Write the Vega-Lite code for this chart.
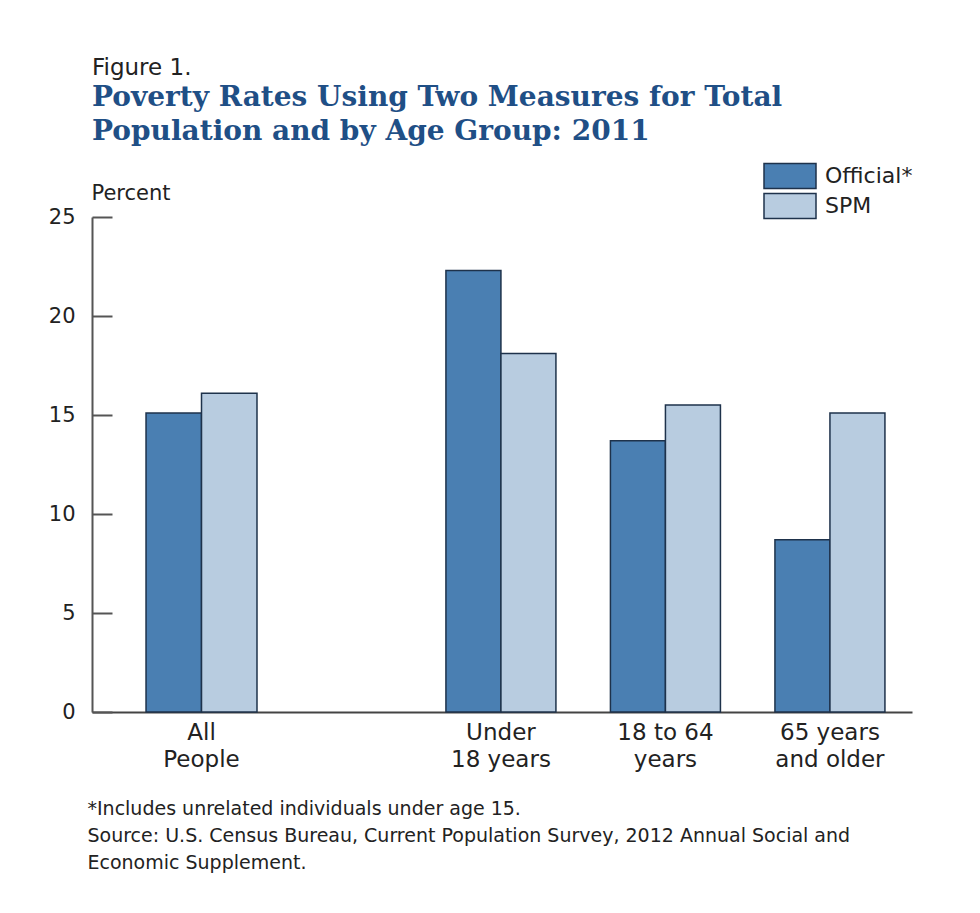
{
  "$schema": "https://vega.github.io/schema/vega-lite/v6.json",
  "autosize": {"type": "none"},
  "padding": {"left": 92, "top": 217, "right": 68, "bottom": 201},
  "width": 820,
  "height": 495,
  "background": "white",
  "title": {
    "text": "Figure 1.",
    "subtitle": ["Poverty Rates Using Two Measures for Total", "Population and by Age Group: 2011"],
    "anchor": "start",
    "frame": "group",
    "font": "DejaVu Sans",
    "fontSize": 23,
    "fontWeight": "normal",
    "color": "#222222",
    "subtitleFont": "DejaVu Serif",
    "subtitleFontSize": 28,
    "subtitleFontWeight": "bold",
    "subtitleColor": "#1f4f86",
    "subtitleLineHeight": 34,
    "subtitlePadding": 4,
    "offset": 16
  },
  "data": {
    "values": [
      {"group": "All People", "measure": "Official*", "rate": 15.1},
      {"group": "All People", "measure": "SPM", "rate": 16.1},
      {"group": "Under 18 years", "measure": "Official*", "rate": 22.3},
      {"group": "Under 18 years", "measure": "SPM", "rate": 18.1},
      {"group": "18 to 64 years", "measure": "Official*", "rate": 13.7},
      {"group": "18 to 64 years", "measure": "SPM", "rate": 15.5},
      {"group": "65 years and older", "measure": "Official*", "rate": 8.7},
      {"group": "65 years and older", "measure": "SPM", "rate": 15.1}
    ]
  },
  "encoding": {
    "y": {
      "field": "rate",
      "type": "quantitative",
      "scale": {"domain": [0, 25], "nice": false},
      "axis": {
        "values": [0, 5, 10, 15, 20, 25],
        "grid": false,
        "domainColor": "#555555",
        "domainWidth": 2,
        "tickColor": "#555555",
        "tickWidth": 2,
        "tickSize": -20,
        "labelFont": "DejaVu Sans",
        "labelFontSize": 21,
        "labelColor": "#222222",
        "labelPadding": 37,
        "title": "Percent",
        "titleFont": "DejaVu Sans",
        "titleFontSize": 21,
        "titleFontWeight": "normal",
        "titleColor": "#222222",
        "titleAngle": 0,
        "titleAlign": "left",
        "titleBaseline": "alphabetic",
        "titleX": -1,
        "titleY": -18
      }
    },
    "color": {
      "field": "measure",
      "type": "nominal",
      "scale": {"domain": ["Official*", "SPM"], "range": ["#4a7fb2", "#b8cce0"]},
      "legend": {
        "title": null,
        "orient": "none",
        "legendX": 684,
        "legendY": -55,
        "symbolType": "M-2,-0.96H2V0.96H-2Z",
        "symbolSize": 676,
        "symbolStrokeColor": "#1e324b",
        "symbolStrokeWidth": 1.5,
        "symbolOpacity": 1,
        "labelOffset": 21,
        "labelFont": "DejaVu Sans",
        "labelFontSize": 22,
        "labelColor": "#222222",
        "rowPadding": -5
      }
    }
  },
  "layer": [
    {
      "transform": [{"filter": "datum.group == 'All People'"}],
      "mark": {"type": "bar", "stroke": "#1e324b", "strokeWidth": 1.5},
      "encoding": {
        "x": {
          "field": "group",
          "type": "nominal",
          "sort": null,
          "scale": {"domain": ["All People"], "paddingInner": 0.687, "paddingOuter": 1, "align": 0.0762},
          "axis": {
            "orient": "bottom",
            "labelAngle": 0,
            "domainColor": "#444444",
            "domainWidth": 2,
            "ticks": false,
            "labelFont": "DejaVu Sans",
            "labelFontSize": 23,
            "labelColor": "#222222",
            "labelLineHeight": 27,
            "labelPadding": 9,
            "labelBaseline": "top",
            "labelExpr": "datum.value == 'All People' ? ['All', 'People'] : datum.value == 'Under 18 years' ? ['Under', '18 years'] : datum.value == '18 to 64 years' ? ['18 to 64', 'years'] : datum.value == '65 years and older' ? ['65 years', 'and older'] : ''",
            "title": ["*Includes unrelated individuals under age 15.", "Source: U.S. Census Bureau, Current Population Survey, 2012 Annual Social and", "Economic Supplement."],
            "titleFont": "DejaVu Sans",
            "titleFontSize": 19,
            "titleFontWeight": "normal",
            "titleColor": "#222222",
            "titleLineHeight": 27,
            "titleAnchor": "start",
            "titleAlign": "left",
            "titleBaseline": "alphabetic",
            "titleX": -5,
            "titleY": 102
          }
        },
        "xOffset": {"field": "measure", "type": "nominal", "scale": {"domain": ["Official*", "SPM"], "paddingInner": 0, "paddingOuter": 0}}
      }
    },
    {
      "transform": [{"filter": "datum.group != 'All People'"}],
      "mark": {"type": "bar", "stroke": "#1e324b", "strokeWidth": 1.5},
      "encoding": {
        "x": {
          "field": "group",
          "type": "nominal",
          "sort": null,
          "scale": {"domain": ["_gap", "Under 18 years", "18 to 64 years", "65 years and older"], "paddingInner": 0.3313, "paddingOuter": 0.658, "align": 0.875},
          "axis": {
            "orient": "bottom",
            "labelAngle": 0,
            "domain": false,
            "ticks": false,
            "labelFont": "DejaVu Sans",
            "labelFontSize": 23,
            "labelColor": "#222222",
            "labelLineHeight": 27,
            "labelPadding": 9,
            "labelBaseline": "top",
            "labelExpr": "datum.value == 'All People' ? ['All', 'People'] : datum.value == 'Under 18 years' ? ['Under', '18 years'] : datum.value == '18 to 64 years' ? ['18 to 64', 'years'] : datum.value == '65 years and older' ? ['65 years', 'and older'] : ''",
            "title": null
          }
        },
        "xOffset": {"field": "measure", "type": "nominal", "scale": {"domain": ["Official*", "SPM"], "paddingInner": 0, "paddingOuter": 0}}
      }
    }
  ],
  "resolve": {"scale": {"x": "independent", "xOffset": "independent"}, "axis": {"x": "independent"}},
  "config": {"view": {"stroke": null}}
}
